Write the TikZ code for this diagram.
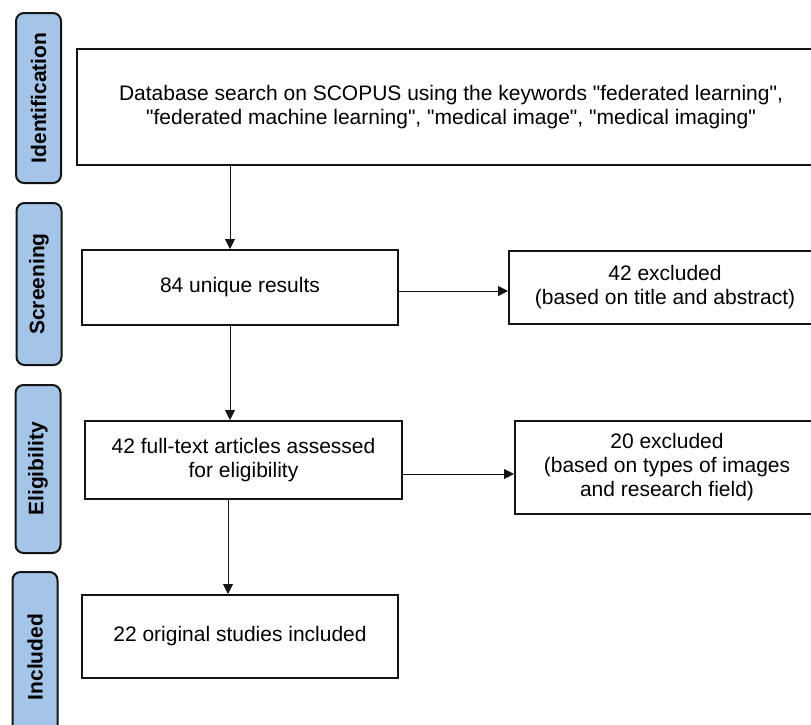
\documentclass[tikz,border=0pt]{standalone}
\usepackage{fontspec}
\setmainfont{Liberation Sans}
\usetikzlibrary{arrows.meta}
\definecolor{lblue}{RGB}{164,196,232}
\definecolor{lineblk}{RGB}{20,20,20}
\newcommand{\sq}{\textquotedbl}
\begin{document}
\begin{tikzpicture}[x=1pt,y=1pt,
  box/.style={draw=lineblk, line width=2pt, fill=white, inner sep=0pt, align=center,
              font=\fontsize{21}{24}\selectfont},
  stage/.style={draw=lineblk, line width=2pt, fill=lblue, rounded corners=8pt, inner sep=0pt,
              font=\bfseries\fontsize{21}{24}\selectfont, rotate=90, minimum height=45},
  arr/.style={-{Triangle[length=10pt,width=10pt]}, line width=1pt, draw=lineblk}]
\useasboundingbox (0,0) rectangle (811,-724);
\clip (0,0) rectangle (811,-724);

% stage labels
\node[stage, minimum width=170] (sid) at (38.5,-98) {Identification};
\node[stage, minimum width=162] (sscr) at (39,-284) {Screening};
\node[stage, minimum width=168] (selig) at (38,-469) {Eligibility};
\node[stage, minimum width=170] (sinc) at (35,-657) {Included};

% main boxes
\node[box, minimum width=748, minimum height=116] (ident) at (451,-107)
  {Database search on SCOPUS using the keywords \sq federated learning\sq,\\
   \sq federated machine learning\sq, \sq medical image\sq, \sq medical imaging\sq};
\node[box, minimum width=316, minimum height=75] (screen) at (240,-287.5) {84 unique results};
\node[box, minimum width=312, minimum height=73] (ex1) at (665,-287.5)
  {42 excluded\\(based on title and abstract)};
\node[box, minimum width=317, minimum height=78] (elig) at (243.5,-460)
  {42 full-text articles assessed\\for eligibility};
\node[box, minimum width=304, minimum height=93] (ex2) at (667,-467.5)
  {20 excluded\\(based on types of images\\and research field)};
\node[box, minimum width=316, minimum height=83] (incl) at (240,-636.5)
  {22 original studies included};

% connector guides
\coordinate (v1) at (230,0);
\coordinate (v2) at (228,0);
\coordinate (h1) at (0,-291);
\coordinate (h2) at (0,-474);

\draw[arr] (ident.south -| v1) -- (screen.north -| v1);
\draw[arr] (screen.south -| v1) -- (elig.north -| v1);
\draw[arr] (elig.south -| v2) -- (incl.north -| v2);
\draw[arr] (screen.east |- h1) -- (ex1.west |- h1);
\draw[arr] (elig.east |- h2) -- (ex2.west |- h2);
\end{tikzpicture}
\end{document}
